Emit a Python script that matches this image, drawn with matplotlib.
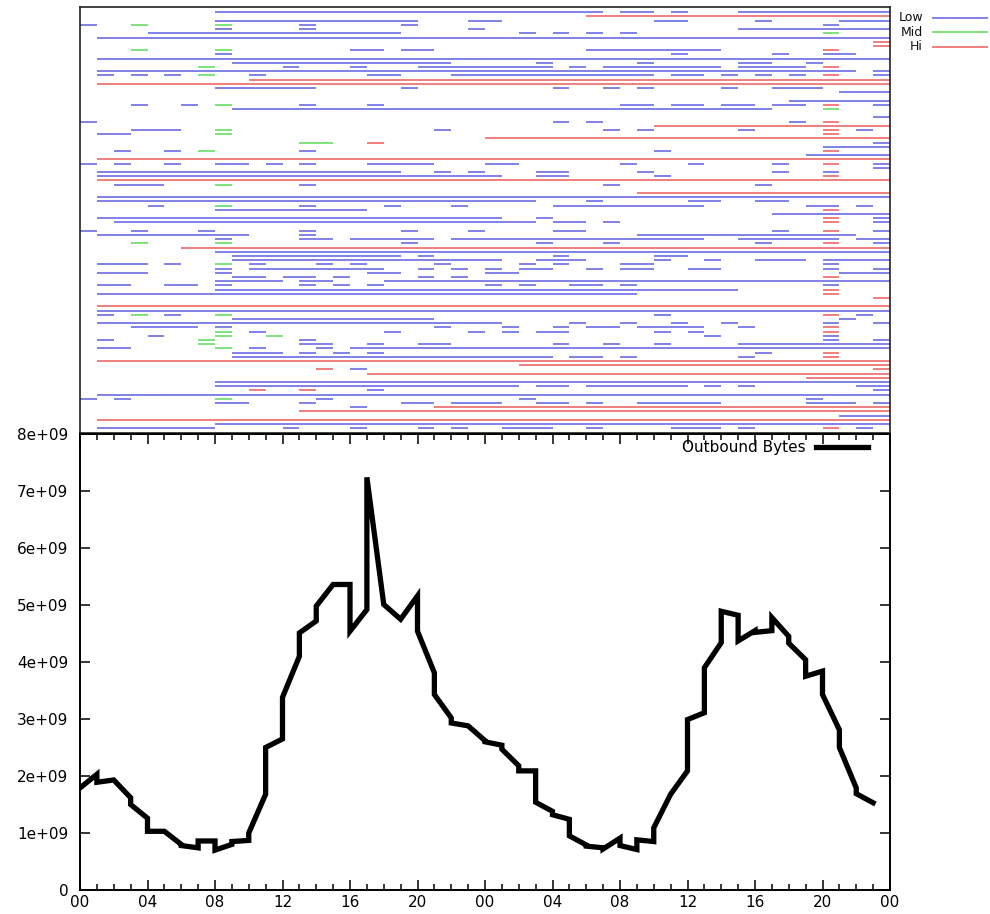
import numpy as np
import matplotlib
matplotlib.use('Agg')
import matplotlib.pyplot as plt
from matplotlib.lines import Line2D

# top panel: one string per host row, tokens are <level><start hour>-<end hour>
# L = Low, M = Mid, H = Hi
rows = [
    "L8-31 L32-34 L35-36 L39-48",
    "H30-48",
    "L8-20 L23-25 L34-36 L40-41 L45-48",
    "L0-1 M3-4 M8-9 L13-14 L19-20 L44-45",
    "L8-9 L13-14 L23-24 L39-48",
    "L4-19 L26-27 L28-29 L30-31 L32-33 M44-45",
    "L1-48",
    "H47-48",
    "H47-48",
    "M3-4 M8-9 L16-18 L19-21 L30-38 H44-45",
    "L8-9 L35-36 L41-42 L44-46",
    "L1-48",
    "L9-22 L27-28 L33-34 L39-41 L43-44",
    "M7-8 L12-13 L16-17 L20-28 L29-30 L31-38 L39-43 H44-45",
    "L1-46 L47-48",
    "L1-2 L3-4 L5-6 M7-8 L10-11 L17-19 L22-34 L35-37 L38-39 L40-41 L42-43 H44-45 L47-48",
    "H10-48",
    "H1-48",
    "L8-14 L19-20 L28-29 L31-32 L33-34 L38-39 L41-44",
    "L45-48",
    "",
    "L42-48",
    "L3-4 L6-7 M8-9 L13-14 L17-18 L32-34 L35-37 L38-40 L41-43 H44-45 L47-48",
    "L9-41 M44-45",
    "",
    "L47-48",
    "L0-1 L28-29 L30-31 L42-43 H44-45",
    "H34-48",
    "L3-6 M8-9 L21-22 L31-32 L33-34 L39-40 H44-45 L46-47",
    "L1-3 M8-9 H44-45",
    "H24-48",
    "M13-15 H17-18 L47-48",
    "L44-48",
    "L2-3 L5-6 M7-8 L13-14 L34-35 H44-45",
    "L43-48",
    "H1-48",
    "L0-1 L2-3 L5-6 L8-10 L11-12 L13-14 L17-21 L24-26 L32-33 L36-37 L41-42 H44-45 L47-48",
    "L47-48",
    "L1-19 L21-22 L23-24 L27-29 L33-34 L41-42 L44-45",
    "L1-25 L27-29 L34-35 H44-45",
    "H1-48",
    "L2-5 M8-9 L13-14 L31-32 L40-41",
    "",
    "H33-48",
    "L1-48",
    "L1-27 L30-31 L36-38 L40-42",
    "L4-5 M8-9 L13-14 L18-19 L22-23 L28-37 L43-45 L46-47",
    "L8-17 H44-45",
    "L41-48",
    "L1-25 L27-28 H44-45 L47-48",
    "L2-27 L28-30 L31-32 H44-45 L47-48",
    "",
    "L0-1 L3-4 L7-8 L13-14 L19-20 L23-24 L28-30 L41-42 H44-45 L47-48",
    "L1-10 L13-14 L33-46",
    "L8-9 L13-15 L16-21 L22-37 L39-45 L46-48",
    "M3-4 M8-9 L19-20 L27-28 L31-32 L40-41 H44-45 L47-48",
    "H6-48",
    "L8-48",
    "L9-19 L20-21 L28-29 L34-36",
    "L9-25 L27-30 L34-35 L37-38 L40-43 L44-48",
    "L1-4 L5-6 M8-9 L10-11 L14-15 L16-17 L21-22 L26-27 L28-29 L32-34 L44-45",
    "L8-9 L10-18 L20-21 L22-23 L24-25 L26-28 L30-31 L32-34 L36-38 L44-45 L47-48",
    "L1-4 L8-9 L17-19 L24-26 L45-48",
    "L9-11 L12-14 L15-16 L20-21 L22-23 H44-45",
    "L8-12 L13-15 L18-48",
    "L1-3 L5-7 L8-9 L13-14 L15-16 L17-18 L24-25 L26-27 L29-31 L32-33 L44-45",
    "L8-39 H44-45",
    "L1-33 H44-45",
    "H47-48",
    "",
    "H1-48",
    "L1-48",
    "L1-2 M3-4 L5-6 M8-9 L34-35 H44-45 L46-47",
    "L9-21 L45-46",
    "L1-25 L29-30 L32-33 L35-36 L38-39 L44-45 L47-48",
    "L3-7 L8-9 L21-22 L25-26 L28-29 L30-32 L33-37 L39-40 H44-45",
    "M8-9 L10-11 L18-19 L23-24 L25-26 L27-29 L34-35 L36-37 H44-45",
    "L4-5 M8-9 M11-12 L37-38 L44-45",
    "L1-2 M7-8 L13-14 L44-45 L47-48",
    "M7-8 L13-15 L17-18 L20-22 L28-29 L31-32 L34-35 L39-48",
    "L1-3 M8-9 L10-11 L14-15 L16-48",
    "L9-12 L13-14 L15-16 L17-18 L40-41 H44-45",
    "L9-28 L29-31 L32-33 L39-40 H44-45",
    "H1-48",
    "H26-48",
    "H14-15 L16-17 H47-48",
    "H17-48",
    "H43-48",
    "L8-48",
    "L8-26 L27-29 L30-36 L37-38 L39-40 L46-48",
    "H10-11 H13-14 L17-18 L47-48",
    "L1-48",
    "L0-1 L2-3 M8-9 L14-15 L26-27 L43-44",
    "L8-10 L13-14 L19-21 L22-25 L27-29 L30-31 L33-38 L43-46 L47-48",
    "L16-17 H21-48",
    "H13-48",
    "L45-48",
    "H1-48",
    "L8-48",
    "L1-8 L12-13 L16-17 L20-21 L22-23 L25-28 L30-31 L35-38 L39-40 H44-45 L46-47",
]

levels = ['L', 'M', 'H']
level_names = ['Low', 'Mid', 'Hi']
level_colors = {'L': '#7676e6', 'M': '#72e072', 'H': '#ef7474'}

# bottom panel: outbound bytes (x1e9), value at start and end of each hour
hour_start = [1.79, 1.89, 1.93, 1.50, 1.03, 1.03, 0.78, 0.86, 0.70, 0.85,
              1.00, 2.50, 3.38, 4.51, 4.98, 5.36, 4.54, 7.24, 5.01, 4.75,
              4.54, 3.43, 2.93, 2.88, 2.60, 2.47, 2.09, 1.54, 1.32, 0.95,
              0.77, 0.72, 0.78, 0.88, 1.09, 1.68, 2.99, 3.90, 4.89, 4.37,
              4.52, 4.78, 4.33, 3.75, 3.43, 2.50, 1.69]
hour_end = [2.03, 1.93, 1.62, 1.26, 1.03, 0.80, 0.74, 0.86, 0.80, 0.87,
            1.68, 2.65, 4.10, 4.72, 5.36, 5.36, 4.92, 5.01, 4.75, 5.16,
            3.81, 3.02, 2.88, 2.62, 2.54, 2.18, 2.09, 1.38, 1.24, 0.79,
            0.74, 0.91, 0.71, 0.85, 1.68, 2.09, 3.11, 4.34, 4.82, 4.55,
            4.55, 4.45, 4.04, 3.84, 2.81, 1.79, 1.53]

hour_labels = ['00', '04', '08', '12', '16', '20', '00', '04', '08', '12', '16', '20', '00']
y_labels = ['0', '1e+09', '2e+09', '3e+09', '4e+09', '5e+09', '6e+09', '7e+09', '8e+09']

plt.rcParams['font.family'] = ['DejaVu Sans']
plt.rcParams['font.size'] = 11

fig = plt.figure(figsize=(9.9, 9.14), dpi=100)
ax_top = fig.add_axes([80/990, 1-433/914, 810/990, 426/914])
ax_bot = fig.add_axes([80/990, 24/914, 810/990, 456/914])

# --- top panel
segs = {lv: ([], [], []) for lv in levels}
for i, row in enumerate(rows):
    for tok in row.split():
        a, b = tok[1:].split('-')
        segs[tok[0]][0].append(i)
        segs[tok[0]][1].append(int(a))
        segs[tok[0]][2].append(int(b))
for lv in levels:
    ys, x0, x1 = segs[lv]
    ax_top.hlines(ys, x0, x1, colors=level_colors[lv], lw=1.3)
ax_top.set_xlim(0, 48)
ax_top.set_ylim(len(rows) - 1 + 1.12, -1.26)
ax_top.set_xticks([])
ax_top.set_yticks([])
for s in ax_top.spines.values():
    s.set_linewidth(1.2)
    s.set_color('#222222')

# legend for top panel, outside to the right
for k, (lv, name) in enumerate(zip(levels, level_names)):
    yy = 1 - (17.5 + 14.5*k)/914
    fig.text(923/990, yy, name, ha='right', va='center', fontsize=9, color='#111111')
    fig.add_artist(Line2D([933/990, 987/990], [yy, yy], color=level_colors[lv], lw=1.3))

# --- bottom panel
hrs = np.arange(len(hour_start))
x = np.column_stack([hrs, hrs + 1]).ravel()
y = np.column_stack([hour_start, hour_end]).ravel() * 1e9
ax_bot.plot(x, y, color='black', lw=3.8, solid_joinstyle='miter', label='Outbound Bytes')
ax_bot.set_xlim(0, 48)
ax_bot.set_ylim(0, 8e9)
ax_bot.set_xticks(np.arange(0, 49, 4))
ax_bot.set_xticklabels(hour_labels)
ax_bot.set_xticks(np.arange(0, 49, 1), minor=True)
ax_bot.set_yticks(np.arange(0, 9) * 1e9)
ax_bot.set_yticklabels(y_labels)
ax_bot.tick_params(which='both', direction='in', top=True, right=True, width=1.1)
ax_bot.tick_params(which='major', length=7)
ax_bot.tick_params(which='minor', length=4)
ax_bot.tick_params(axis='y', pad=8.5)
ax_bot.tick_params(axis='x', pad=3.5)
for s in ax_bot.spines.values():
    s.set_linewidth(1.4)
ax_bot.legend(loc='upper right', bbox_to_anchor=(0.98, 1.0), frameon=False,
              markerfirst=False, handlelength=3.4, handletextpad=0.65,
              borderaxespad=0, fontsize=11)

plt.savefig('out.png', dpi=100)
